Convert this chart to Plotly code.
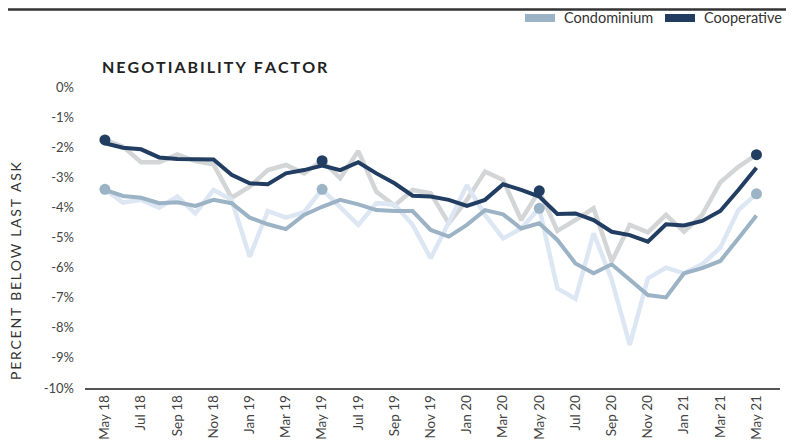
import plotly.graph_objects as go

# months May 18 .. May 21
months = ['May 18', 'Jun 18', 'Jul 18', 'Aug 18', 'Sep 18', 'Oct 18', 'Nov 18', 'Dec 18',
          'Jan 19', 'Feb 19', 'Mar 19', 'Apr 19', 'May 19', 'Jun 19', 'Jul 19', 'Aug 19',
          'Sep 19', 'Oct 19', 'Nov 19', 'Dec 19', 'Jan 20', 'Feb 20', 'Mar 20', 'Apr 20',
          'May 20', 'Jun 20', 'Jul 20', 'Aug 20', 'Sep 20', 'Oct 20', 'Nov 20', 'Dec 20',
          'Jan 21', 'Feb 21', 'Mar 21', 'Apr 21', 'May 21']

# monthly values (light lines)
coop_monthly = [-1.76, -1.98, -2.50, -2.50, -2.24, -2.46, -2.57, -3.68, -3.31, -2.76,
                -2.59, -2.87, -2.45, -3.03, -2.13, -3.48, -3.94, -3.42, -3.53, -4.53,
                -3.75, -2.81, -3.09, -4.42, -3.45, -4.78, -4.42, -4.03, -5.80, -4.58,
                -4.83, -4.25, -4.81, -4.25, -3.17, -2.65, -2.25]
condo_monthly = [-3.40, -3.84, -3.75, -4.01, -3.64, -4.20, -3.42, -3.75, -5.64, -4.12,
                 -4.34, -4.16, -3.40, -3.98, -4.58, -3.86, -3.90, -4.58, -5.69, -4.50,
                 -3.26, -4.25, -5.03, -4.70, -4.03, -6.69, -7.04, -4.86, -6.40, -8.57,
                 -6.36, -6.00, -6.19, -5.89, -5.34, -4.09, -3.55]

# rolling averages (dark lines)
coop_avg = [-1.87, -2.02, -2.07, -2.34, -2.39, -2.39, -2.41, -2.92, -3.20, -3.23,
            -2.87, -2.76, -2.61, -2.76, -2.50, -2.87, -3.20, -3.61, -3.64, -3.75,
            -3.95, -3.75, -3.23, -3.42, -3.64, -4.22, -4.20, -4.42, -4.81, -4.92,
            -5.14, -4.56, -4.60, -4.45, -4.12, -3.42, -2.68]
condo_avg = [-3.42, -3.62, -3.68, -3.86, -3.83, -3.95, -3.75, -3.86, -4.34, -4.56,
             -4.72, -4.25, -3.98, -3.75, -3.90, -4.09, -4.12, -4.12, -4.75, -4.97,
             -4.58, -4.09, -4.23, -4.70, -4.53, -5.08, -5.86, -6.19, -5.89, -6.41,
             -6.91, -6.99, -6.19, -6.02, -5.78, -5.03, -4.27]

may_idx = [0, 12, 24, 36]
y_ticks = [0, -1, -2, -3, -4, -5, -6, -7, -8, -9, -10]
y_labels = ['0%', '-1%', '-2%', '-3%', '-4%', '-5%', '-6%', '-7%', '-8%', '-9%', '-10%']

NAVY = '#213d62'
STEEL = '#9cb2c5'
GRAY = '#d3d5d7'
PALE = '#dde7f4'
FONT = 'Lato'

# page has an 8px body margin, so the figure is drawn 8px smaller and all
# window positions below are shifted by OFF
OFF = 8
W, H = 796 - OFF, 446 - OFF
L, R, T, B = 85 - OFF, 780 - OFF, 87 - OFF, 388 - OFF
PW, PH = R - L, B - T


def px(xp):
    # window pixel -> paper x
    return (xp - OFF - L) / PW


def py(yp):
    # window pixel -> paper y
    return (B - (yp - OFF)) / PH


x = list(range(len(months)))

fig = go.Figure()
fig.add_trace(go.Scatter(x=x, y=coop_monthly, mode='lines', line=dict(color=GRAY, width=4.5),
                         hoverinfo='skip'))
fig.add_trace(go.Scatter(x=x, y=condo_monthly, mode='lines', line=dict(color=PALE, width=4.5),
                         hoverinfo='skip'))
fig.add_trace(go.Scatter(x=x, y=condo_avg, mode='lines', line=dict(color=STEEL, width=4),
                         name='Condominium'))
fig.add_trace(go.Scatter(x=x, y=coop_avg, mode='lines', line=dict(color=NAVY, width=4),
                         name='Cooperative'))
fig.add_trace(go.Scatter(x=may_idx, y=[condo_monthly[i] for i in may_idx], mode='markers',
                         marker=dict(color=STEEL, size=11)))
fig.add_trace(go.Scatter(x=may_idx, y=[coop_monthly[i] for i in may_idx], mode='markers',
                         marker=dict(color=NAVY, size=11)))

fig.update_layout(
    width=W, height=H,
    margin=dict(l=L, r=W - R, t=T, b=H - B, autoexpand=False),
    paper_bgcolor='white', plot_bgcolor='white',
    showlegend=False,
    font=dict(family=FONT, size=13, color='#444'),
    xaxis=dict(range=[-1.1, 37.3], tickvals=x[::2], ticktext=months[::2], tickangle=-90,
               showgrid=False, zeroline=False, showline=True, linecolor='#555', linewidth=1.5,
               ticks='', tickfont=dict(family=FONT, size=13.5, color='#444')),
    yaxis=dict(range=[-10, 0], tickvals=y_ticks, ticktext=y_labels, showgrid=False,
               zeroline=False, showline=False, ticks='', ticklabelstandoff=10,
               tickfont=dict(family=FONT, size=13, color='#444')),
)

# legend drawn by hand: swatch + label
for sx, color, label in [(525, STEEL, 'Condominium'), (665, NAVY, 'Cooperative')]:
    fig.add_shape(type='rect', xref='paper', yref='paper', x0=px(sx), x1=px(sx + 30),
                  y0=py(22), y1=py(14), fillcolor=color, line=dict(width=0))
    fig.add_annotation(x=px(sx + 37), xref='paper', xanchor='left', y=py(18), yref='paper',
                       yanchor='middle', showarrow=False, text=label,
                       font=dict(family=FONT, size=14.5, color='#333'))

fig.add_annotation(x=px(100), xref='paper', xanchor='left',
                   y=py(66), yref='paper', yanchor='middle', showarrow=False,
                   text='<b>N\u2009E\u2009G\u2009O\u2009T\u2009I\u2009A\u2009B\u2009I\u2009L\u2009I\u2009T\u2009Y\u2002F\u2009A\u2009C\u2009T\u2009O\u2009R</b>',
                   font=dict(family=FONT, size=16, color='#222'))
fig.add_annotation(x=px(15), xref='paper', xanchor='center',
                   y=py(271), yref='paper', yanchor='middle', showarrow=False,
                   textangle=-90,
                   text='P\u2009E\u2009R\u2009C\u2009E\u2009N\u2009T\u2002B\u2009E\u2009L\u2009O\u2009W\u2002L\u2009A\u2009S\u2009T\u2002A\u2009S\u2009K',
                   font=dict(family=FONT, size=14, color='#333'))

# top rule (as high as the page margin allows)
fig.add_shape(type='line', xref='paper', yref='paper', x0=px(8), x1=px(786),
              y0=py(9.5), y1=py(9.5), line=dict(color='#333', width=2.5))

fig.write_html('out.html')
